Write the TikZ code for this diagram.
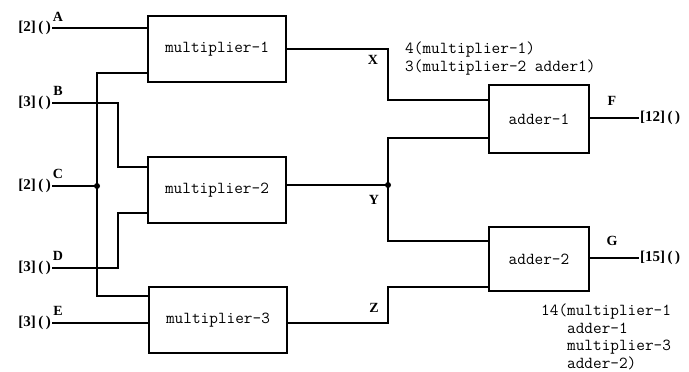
\documentclass[tikz,border=0pt]{standalone}
\usepackage{fontspec}
\setmainfont{Liberation Serif}
\usetikzlibrary{positioning}

\tikzset{
  unit/.style={draw, line width=1.4pt, font=\ttfamily\fontsize{16.8}{17}\selectfont},
  inlabel/.style={anchor=east, inner sep=1pt, font=\fontsize{15}{17}\selectfont\bfseries},
  outlabel/.style={anchor=west, inner sep=1pt, font=\fontsize{15}{17}\selectfont\bfseries},
  sig/.style={font=\fontsize{14}{16}\selectfont\bfseries},
  note/.style={align=left, inner sep=0pt, font=\ttfamily\fontsize{16.8}{17.5}\selectfont},
  wire/.style={line width=1.4pt}
}

\begin{document}
\begin{tikzpicture}[x=1pt,y=-1pt]
  \useasboundingbox (0,0) rectangle (689,372);

  % boxes
  \node (m1) [unit, minimum width=138pt, minimum height=66pt] at (217,49) {multiplier-1};
  \node (m2) [unit, minimum width=138pt, minimum height=66pt] at (217,190) {multiplier-2};
  \node (m3) [unit, minimum width=138pt, minimum height=66pt] at (218,320) {multiplier-3};
  \node (a1) [unit, minimum width=100pt, minimum height=68pt] at (539,119) {adder-1};
  \node (a2) [unit, minimum width=100pt, minimum height=64pt] at (539,259) {adder-2};

  % inputs
  \node (inA) [inlabel] at (52,28) {[2]\,(\,)};
  \node (inB) [inlabel] at (52,103) {[3]\,(\,)};
  \node (inC) [inlabel] at (52,186) {[2]\,(\,)};
  \node (inD) [inlabel] at (52,268) {[3]\,(\,)};
  \node (inE) [inlabel] at (52,323) {[3]\,(\,)};
  \node (lA) [sig] at (58,17) {A};
  \node (lB) [sig] at (58,91) {B};
  \node (lC) [sig] at (58,174) {C};
  \node (lD) [sig] at (58,256) {D};
  \node (lE) [sig] at (58,311) {E};

  % outputs
  \node (outF) [outlabel] at (639,118) {[12]\,(\,)};
  \node (outG) [outlabel] at (639,258) {[15]\,(\,)};
  \node (lF) [sig] at (612,101) {F};
  \node (lG) [sig] at (612,241) {G};

  % bends
  \coordinate (t1) at (97,73);
  \coordinate (jc) at (97,186);
  \coordinate (t3) at (97,296);
  \coordinate (b2) at (118,167);
  \coordinate (d2) at (118,213);
  \coordinate (xj) at (388,100);
  \coordinate (ya) at (388,138);
  \coordinate (yj) at (388,185);
  \coordinate (yb) at (388,241);
  \coordinate (zj) at (388,323);
  \coordinate (zb) at (388,287);

  % wires
  \draw[wire] (inA.east) -- (inA.east -| m1.west);
  \draw[wire] (t1 -| m1.west) -- (t1) -- (t3) -- (t3 -| m3.west);
  \draw[wire] (inB.east) -| (b2) -- (b2 -| m2.west);
  \draw[wire] (inC.east) -- (jc);
  \draw[wire] (inD.east) -| (d2) -- (d2 -| m2.west);
  \draw[wire] (inE.east) -- (inE.east -| m3.west);
  \fill (jc) circle (3pt);

  \draw[wire] (m1.east) -| (xj) -- (xj -| a1.west);
  \draw[wire] (yj -| m2.east) -- (yj);
  \draw[wire] (ya -| a1.west) -- (ya) -- (yb) -- (yb -| a2.west);
  \fill (yj) circle (3pt);
  \draw[wire] (zj -| m3.east) -- (zj) -- (zb) -- (zb -| a2.west);
  \draw[wire] (a1.east |- outF.west) -- (outF);
  \draw[wire] (a2.east |- outG.west) -- (outG);

  % wire names
  \node (lX) [sig] at (373,60) {X};
  \node (lY) [sig] at (374,200) {Y};
  \node (lZ) [sig] at (374,308) {Z};

  % notes
  \node (n1) [note, anchor=north west] at (405,42) {4(multiplier-1)\\3(multiplier-2 adder1)};
  \node (n2) [note, anchor=north west] at (541,304) {14(multiplier-1\\\phantom{14(}adder-1\\\phantom{14(}multiplier-3\\\phantom{14(}adder-2)};
\end{tikzpicture}
\end{document}
